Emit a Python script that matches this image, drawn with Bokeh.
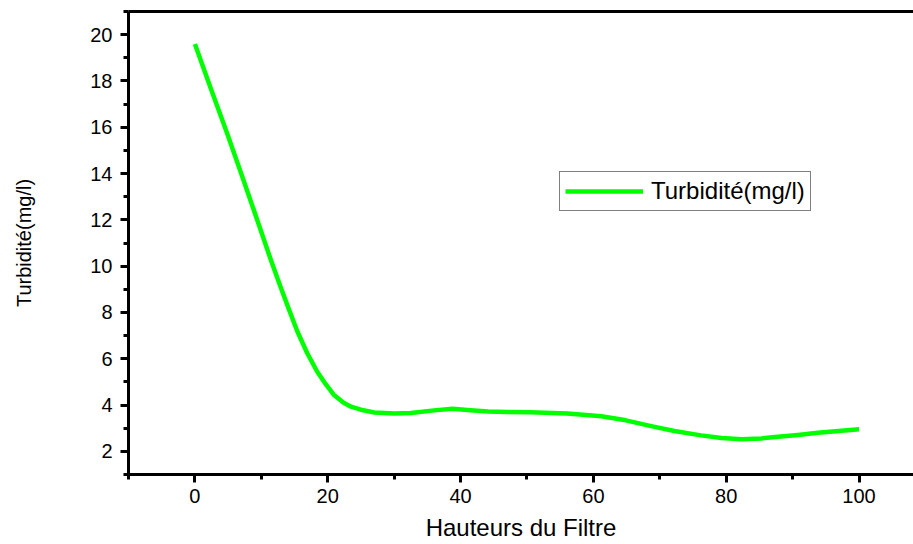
from bokeh.plotting import figure
from bokeh.models import (FixedTicker, LinearAxis, Range1d, Legend, LegendItem)
from bokeh.embed import file_html
from bokeh.resources import INLINE

# Data (points along the drawn curve)
hauteur = [0, 2.3, 4.9, 7.4, 9.5, 11.4, 12.9, 14.2, 15.4, 16.9, 18.4, 19.7, 20.9, 22.4, 23.5, 25.0,
           27.0, 30.0, 32.5, 36.0, 38.8, 41.0, 44.1, 47.1, 50.5, 56.1, 61.2, 64.9, 68.7, 72.2,
           76.2, 79.3, 82.3, 85.3, 87.8, 90.8, 93.8, 96.9, 100]
turbidite = [19.6, 17.75, 15.7, 13.65, 11.9, 10.3, 9.1, 8.1, 7.2, 6.25, 5.45, 4.9, 4.45, 4.1, 3.93, 3.8,
             3.68, 3.64, 3.66, 3.77, 3.84, 3.79, 3.72, 3.70, 3.69, 3.64, 3.52, 3.34, 3.09, 2.88,
             2.69, 2.58, 2.52, 2.56, 2.63, 2.71, 2.80, 2.88, 2.95]

x_major = [0, 20, 40, 60, 80, 100]
x_minor = [-10, 10, 30, 50, 70, 90]
y_major = [2, 4, 6, 8, 10, 12, 14, 16, 18, 20]
y_minor = [1, 3, 5, 7, 9, 11, 13, 15, 17, 19, 21]

FONT = "Liberation Sans"

p = figure(width=913, height=544, output_backend="svg", toolbar_location=None,
           x_range=Range1d(-10, 108.2), y_range=Range1d(1.0, 21.0),
           min_border_left=128, min_border_right=0, min_border_top=11, min_border_bottom=70)
p.outline_line_color = None
p.xgrid.visible = False
p.ygrid.visible = False
p.background_fill_color = "white"
p.border_fill_color = "white"

r = p.line(hauteur, turbidite, line_color="#00FF00", line_width=4.5, line_join="round")

for ax, maj, mnr in ((p.xaxis[0], x_major, x_minor), (p.yaxis[0], y_major, y_minor)):
    ax.ticker = FixedTicker(ticks=maj, minor_ticks=mnr)
    ax.axis_line_width = 3
    ax.axis_line_color = "black"
    ax.major_tick_line_width = 3
    ax.minor_tick_line_width = 3
    ax.major_tick_in = 0
    ax.major_tick_out = 8
    ax.minor_tick_in = 0
    ax.minor_tick_out = 5
    ax.major_label_text_font = FONT
    ax.major_label_text_font_size = "20px"
    ax.major_label_text_color = "black"
    ax.axis_label_text_font = FONT
    ax.axis_label_text_font_style = "normal"
    ax.axis_label_text_color = "black"

p.xaxis.axis_label = "Hauteurs du Filtre"
p.xaxis.axis_label_text_font_size = "24px"
p.xaxis.major_label_standoff = 6
p.xaxis.axis_label_standoff = 8
p.yaxis.axis_label = "Turbidité(mg/l)"
p.yaxis.axis_label_text_font_size = "20px"
p.yaxis.major_label_standoff = 8
p.yaxis.axis_label_standoff = 52

top = LinearAxis(ticker=FixedTicker(ticks=[]), axis_line_width=3, axis_line_color="black",
                 major_tick_out=0, minor_tick_out=0, major_label_standoff=0)
p.add_layout(top, "above")

legend = Legend(items=[LegendItem(label="Turbidité(mg/l)", renderers=[r])],
                location=(431, 263), padding=5, spacing=0, margin=0,
                glyph_width=78, glyph_height=20, label_standoff=8,
                label_text_font=FONT, label_text_font_size="24px", label_text_color="black",
                border_line_color="black", border_line_width=1.5,
                background_fill_alpha=1.0)
p.add_layout(legend, "center")

open("out.html", "w").write(file_html(p, INLINE))
